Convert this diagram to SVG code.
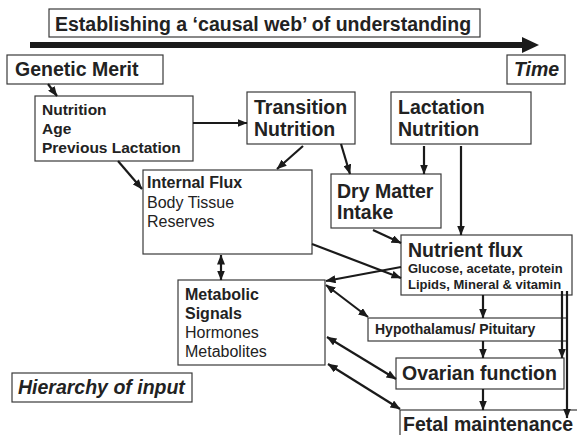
<svg xmlns="http://www.w3.org/2000/svg" width="577" height="435" viewBox="0 0 577 435">
<defs>
<style>
.box{fill:#fff;stroke:#3a3a3a;stroke-width:1.2}
.t{font-family:"Liberation Sans",Arial,sans-serif;fill:#222;font-weight:bold}
.r{font-weight:normal}
.i{font-style:italic}
.big{font-size:19.5px}
.med{font-size:15.5px}
.mid{font-size:16px}
.sm{font-size:13px}
.c{stroke:#1a1a1a;stroke-width:2.2;fill:none}
.one{marker-end:url(#ah)}
.two{marker-start:url(#ah);marker-end:url(#ah)}
</style>
<marker id="ah" markerUnits="userSpaceOnUse" markerWidth="10" markerHeight="8" refX="9.5" refY="4" orient="auto-start-reverse" viewBox="0 0 10 8">
<path d="M0,0 L10,4 L0,8 z" fill="#1a1a1a"/>
</marker>
</defs>

<g id="title">
<rect class="box" x="49" y="9" width="431" height="28"/>
<text class="t big" x="55" y="31">Establishing a ‘causal web’ of understanding</text>
</g>

<g id="time-arrow">
<line x1="30" y1="45" x2="524" y2="45" stroke="#1a1a1a" stroke-width="6"/>
<polygon points="522,37 539,45 522,53" fill="#1a1a1a"/>
</g>

<g id="genetic-merit">
<rect class="box" x="7" y="55" width="156" height="29"/>
<text class="t big" x="15" y="76">Genetic Merit</text>
</g>

<g id="time">
<rect class="box" x="507" y="55" width="58" height="29"/>
<text class="t big i" x="514" y="76">Time</text>
</g>

<g id="nutrition">
<rect class="box" x="35" y="96" width="158" height="65"/>
<text class="t med" x="42" y="115">Nutrition</text>
<text class="t med" x="42" y="134">Age</text>
<text class="t med" x="42" y="153">Previous Lactation</text>
</g>

<g id="transition-nutrition">
<rect class="box" x="247" y="92" width="108" height="52"/>
<text class="t big" x="254" y="114">Transition</text>
<text class="t big" x="254" y="136">Nutrition</text>
</g>

<g id="lactation-nutrition">
<rect class="box" x="391" y="92" width="140" height="52"/>
<text class="t big" x="398" y="114">Lactation</text>
<text class="t big" x="398" y="136">Nutrition</text>
</g>

<g id="dry-matter-intake">
<rect class="box" x="331" y="174" width="110" height="54"/>
<text class="t big" x="337" y="198">Dry Matter</text>
<text class="t big" x="337" y="219">Intake</text>
</g>

<g id="internal-flux">
<rect class="box" x="143" y="170" width="169" height="84"/>
<text class="t mid" x="147" y="188">Internal Flux</text>
<text class="t mid r" x="147" y="208">Body Tissue</text>
<text class="t mid r" x="147" y="227">Reserves</text>
</g>

<g id="metabolic-signals">
<rect class="box" x="178" y="280" width="147" height="85"/>
<text class="t mid" x="185" y="300">Metabolic</text>
<text class="t mid" x="185" y="319">Signals</text>
<text class="t mid r" x="185" y="338">Hormones</text>
<text class="t mid r" x="185" y="357">Metabolites</text>
</g>

<g id="nutrient-flux">
<rect class="box" x="401" y="235" width="171" height="60"/>
<text class="t big" x="408" y="257">Nutrient flux</text>
<text class="t sm" x="408" y="273">Glucose, acetate, protein</text>
<text class="t sm" x="408" y="289">Lipids, Mineral &amp; vitamin</text>
</g>

<g id="hypothalamus-pituitary">
<rect class="box" x="368" y="318" width="199" height="23"/>
<text class="t" font-size="14" x="375" y="334">Hypothalamus/ Pituitary</text>
</g>

<g id="ovarian-function">
<rect class="box" x="396" y="358" width="168" height="31"/>
<text class="t big" x="402" y="380">Ovarian function</text>
</g>

<g id="fetal-maintenance">
<rect class="box" x="400" y="410" width="200" height="40"/>
<text class="t big" x="403" y="431">Fetal maintenance</text>
</g>

<g id="hierarchy-of-input">
<rect class="box" x="12" y="373" width="180" height="29"/>
<text class="t big i" x="18" y="394">Hierarchy of input</text>
</g>

<g id="connectors">
<line class="c one" x1="48" y1="84" x2="57" y2="96"/>
<line class="c one" x1="193" y1="123" x2="247" y2="123"/>
<line class="c one" x1="118" y1="161" x2="142" y2="189"/>
<line class="c one" x1="303" y1="146" x2="277" y2="169"/>
<line class="c one" x1="341" y1="144" x2="350" y2="174"/>
<line class="c one" x1="424" y1="146" x2="424" y2="174"/>
<line class="c one" x1="461" y1="146" x2="461" y2="235"/>
<line class="c one" x1="373" y1="230" x2="401" y2="243"/>
<line class="c one" x1="312" y1="244" x2="401" y2="278"/>
<line class="c one" x1="401" y1="267" x2="326" y2="281"/>
<line class="c two" x1="221" y1="255" x2="221" y2="280"/>
<line class="c one" x1="483" y1="295" x2="483" y2="318"/>
<line class="c one" x1="483" y1="341" x2="483" y2="358"/>
<line class="c one" x1="483" y1="389" x2="483" y2="410"/>
<line class="c one" x1="562" y1="291" x2="562" y2="358"/>
<line class="c one" x1="567" y1="291" x2="567" y2="418"/>
<line class="c two" x1="326" y1="285" x2="368" y2="317"/>
<line class="c two" x1="327" y1="337" x2="396" y2="379"/>
<line class="c two" x1="328" y1="364" x2="400" y2="409"/>
</g>
</svg>
